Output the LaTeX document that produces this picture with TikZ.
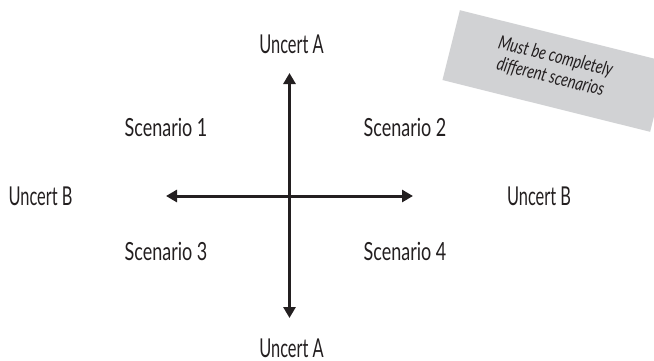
\documentclass[tikz,border=0pt]{standalone}
\usepackage{fontspec}
\setmainfont{Lato}
\newfontfamily\scenfont[FakeStretch=0.72]{Lato}
\newfontfamily\uncfont[FakeStretch=0.63]{Lato}
\newfontfamily\notefont[FakeStretch=0.76]{Lato}
\usetikzlibrary{arrows.meta}
\definecolor{ink}{HTML}{231F20}
\definecolor{boxgray}{HTML}{D1D2D4}
\tikzset{
  scen/.style={font=\scenfont\fontsize{25}{28}\selectfont, text=ink, inner sep=0pt},
  unc/.style={font=\uncfont\fontsize{26}{28}\selectfont, text=ink, inner sep=0pt},
  axis/.style={draw=ink, line width=3pt, {Triangle[length=11pt,width=12pt]}-{Triangle[length=11pt,width=12pt]}},
  note/.style={fill=boxgray, minimum width=214pt, minimum height=72pt, rotate=-14, inner sep=0pt},
  notetext/.style={font=\notefont\itshape\fontsize{19}{21}\selectfont, text=ink, align=center, rotate=-14, inner sep=0pt}
}
\begin{document}
\begin{tikzpicture}[x=1pt,y=-1pt]
\useasboundingbox (0,0) rectangle (654,360);
\node[note] (box) at (555,71) {};
\node[notetext] (boxtxt) at (553,67) {Must be completely\\different scenarios};
\coordinate (top) at (289.5,73);
\coordinate (bot) at (289.5,318);
\coordinate (lft) at (166,196);
\coordinate (rgt) at (413,196);
\draw[axis] (top) -- (bot);
\draw[axis] (lft) -- (rgt);
\node[unc] (ua1) at (291.5,44) {Uncert A};
\node[unc] (ua2) at (291.5,348.5) {Uncert A};
\node[unc] (ub1) at (40.5,196.5) {Uncert B};
\node[unc] (ub2) at (539,196) {Uncert B};
\node[scen] (s1) at (166,127.5) {Scenario 1};
\node[scen] (s2) at (405,127.5) {Scenario 2};
\node[scen] (s3) at (166,251) {Scenario 3};
\node[scen] (s4) at (405,251) {Scenario 4};
\end{tikzpicture}
\end{document}
